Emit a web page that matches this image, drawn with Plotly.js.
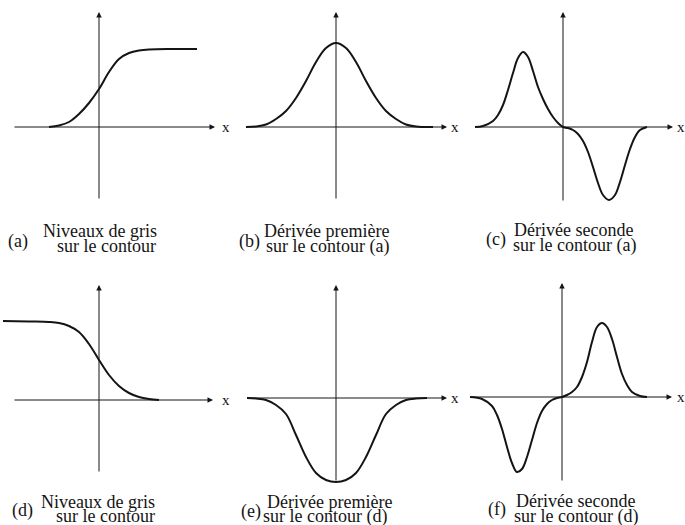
<!DOCTYPE html>
<html>
<head>
<meta charset="utf-8">
<script src="https://cdn.plot.ly/plotly-3.0.1.min.js"></script>
<style>
  html, body { margin: 0; padding: 0; background: #fff; }
  #chart { width: 685px; height: 525px; }
</style>
</head>
<body>
<div id="chart"></div>
<script>
// Edge profiles: grey level across the edge and its derivatives (arbitrary units)
const xA = [-5.0, -4.0, -3.0, -2.0, -1.0, 0, 1.0, 2.0, 3.0, 4.0, 5.0, 7.0, 9.8];
const yA = [0, 0.15, 0.5, 1.3, 2.4, 3.8, 5.5, 6.8, 7.4, 7.65, 7.75, 7.8, 7.8];

const xB = [-9.0, -8.0, -7.0, -6.0, -5.0, -4.0, -3.0, -2.0, -1.0, 0, 1.0, 2.0, 3.0, 4.0, 5.0, 6.0, 7.0, 8.0, 9.7];
const yB = [0, 0.05, 0.25, 0.8, 1.6, 2.9, 4.6, 6.5, 7.9, 8.4, 7.9, 6.5, 4.6, 2.9, 1.6, 0.8, 0.25, 0.05, 0];

const xC = [-8.8, -8.0, -7.0, -6.5, -6.0, -5.5, -5.0, -4.5, -4.0, -3.5, -3.0, -2.5, -2.0, -1.5, -1.0, -0.5, 0,
            0.5, 1.0, 1.5, 2.0, 2.5, 3.0, 3.5, 4.0, 4.6, 5.2, 5.7, 6.2, 6.7, 7.2, 7.7, 8.4];
const yC = [0, 0.1, 0.6, 1.2, 2.2, 3.7, 5.4, 6.9, 7.5, 7.0, 5.6, 4.0, 2.8, 1.8, 1.0, 0.4, 0,
            -0.1, -0.3, -0.7, -1.4, -2.5, -4.0, -5.6, -6.8, -7.3, -6.8, -5.5, -3.8, -2.2, -1.0, -0.3, 0];

const xD = [-9.6, -7.0, -5.0, -4.0, -3.0, -2.0, -1.0, 0, 1.0, 2.0, 3.0, 4.0, 5.0, 6.0];
const yD = [7.9, 7.85, 7.8, 7.7, 7.4, 6.8, 5.6, 4.0, 2.5, 1.4, 0.7, 0.3, 0.1, 0];

const xE = [-8.9, -8.0, -7.0, -6.0, -5.0, -4.0, -3.0, -2.0, -1.0, 0, 1.0, 2.0, 3.0, 4.0, 5.0, 6.0, 7.0, 8.0, 9.1];
const yE = [0, -0.05, -0.2, -0.7, -1.6, -3.7, -5.9, -7.5, -8.2, -8.4, -8.2, -7.5, -5.9, -3.7, -1.6, -0.7, -0.2, -0.05, 0];

const xF = [-9.2, -8.0, -7.0, -6.5, -6.0, -5.5, -5.0, -4.5, -4.0, -3.5, -3.0, -2.5, -2.0, -1.5, -1.0, -0.5, 0,
            0.5, 1.0, 1.5, 2.0, 2.5, 3.0, 3.5, 4.0, 4.5, 5.0, 5.5, 6.0, 6.5, 7.0, 7.8, 8.5];
const yF = [0, -0.2, -0.9, -1.8, -3.2, -5.0, -6.6, -7.5, -7.2, -6.0, -4.3, -2.6, -1.4, -0.7, -0.3, -0.1, 0,
            0.2, 0.5, 1.0, 2.0, 3.5, 5.5, 7.0, 7.4, 7.0, 5.8, 4.0, 2.3, 1.2, 0.5, 0.1, 0];

const captionTags  = ['(a)', '(b)', '(c)', '(d)', '(e)', '(f)'];
const captionLine1 = ['Niveaux de gris', 'Dérivée première', 'Dérivée seconde',
                      'Niveaux de gris', 'Dérivée première', 'Dérivée seconde'];
const captionLine2 = ['sur le contour', 'sur le contour (a)', 'sur le contour (a)',
                      'sur le contour', 'sur le contour (d)', 'sur le contour (d)'];
const axisLabel = 'x';

const series = [[xA, yA], [xB, yB], [xC, yC], [xD, yD], [xE, yE], [xF, yF]];

// Page geometry (pixels) and scale of the drawing: 10 px per unit
const W = 685, H = 525, S = 10;
const INK = '#141414';
const SERIF = '"Liberation Serif", "Times New Roman", serif';

// Per panel: origin, cell box, axis-arrow extents (units), caption placement
const panels = [
  { ox: 99,  oy: 127, box: [0, 232, 0, 260],     xa: [-8.6, 11.6], ya: [-7.3, 11.5], lab: 12.7,
    tag: [7, 241],   l1: [42, 231],  l2: [56, 246] },
  { ox: 336, oy: 127, box: [233, 459, 0, 260],   xa: [-9.0, 11.1], ya: [-7.3, 11.5], lab: 11.9,
    tag: [238, 241], l1: [263, 231], l2: [265, 246] },
  { ox: 563, oy: 127, box: [460, 685, 0, 260],   xa: [-8.8, 11.0], ya: [-7.5, 11.5], lab: 11.8,
    tag: [485, 239], l1: [513, 230], l2: [512, 245] },
  { ox: 99,  oy: 400, box: [0, 232, 262, 525],   xa: [-8.6, 11.4], ya: [-7.3, 11.5], lab: 12.7,
    tag: [11, 510],  l1: [40, 502],  l2: [55, 516] },
  { ox: 336, oy: 398, box: [233, 459, 262, 525], xa: [-9.0, 11.1], ya: [-8.4, 11.3], lab: 11.9,
    tag: [240, 511], l1: [266, 502], l2: [262, 516] },
  { ox: 562, oy: 397, box: [460, 685, 262, 525], xa: [-9.2, 11.0], ya: [-8.5, 11.4], lab: 11.9,
    tag: [487, 509], l1: [515, 501], l2: [513, 516] }
];

const data = [];
const layout = {
  width: W, height: H,
  margin: { l: 0, r: 0, t: 0, b: 0 },
  paper_bgcolor: '#fff', plot_bgcolor: 'rgba(0,0,0,0)',
  showlegend: false,
  annotations: []
};

panels.forEach((p, i) => {
  const n = i === 0 ? '' : String(i + 1);
  const [left, right, top, bottom] = p.box;
  const hidden = { visible: false, fixedrange: true };
  layout['xaxis' + n] = Object.assign({
    domain: [left / W, right / W],
    range: [(left - p.ox) / S, (right - p.ox) / S],
    anchor: 'y' + n
  }, hidden);
  layout['yaxis' + n] = Object.assign({
    domain: [1 - bottom / H, 1 - top / H],
    range: [(p.oy - bottom) / S, (p.oy - top) / S],
    anchor: 'x' + n
  }, hidden);

  const [xs, ys] = series[i];
  data.push({
    x: xs, y: ys, xaxis: 'x' + n, yaxis: 'y' + n,
    type: 'scatter', mode: 'lines', hoverinfo: 'skip',
    line: { color: INK, width: 2, shape: 'spline', smoothing: 1 }
  });

  const ref = { xref: 'x' + n, yref: 'y' + n, axref: 'x' + n, ayref: 'y' + n };
  // horizontal axis arrow
  layout.annotations.push(Object.assign({
    x: p.xa[1], y: 0, ax: p.xa[0], ay: 0, text: '',
    showarrow: true, arrowhead: 2, arrowsize: 1.1, arrowwidth: 1, arrowcolor: INK, standoff: 0
  }, ref));
  // vertical axis arrow
  layout.annotations.push(Object.assign({
    x: 0, y: p.ya[1], ax: 0, ay: p.ya[0], text: '',
    showarrow: true, arrowhead: 2, arrowsize: 1.1, arrowwidth: 1, arrowcolor: INK, standoff: 0
  }, ref));
  // axis name
  layout.annotations.push({
    xref: 'x' + n, yref: 'y' + n, x: p.lab, y: 0, text: axisLabel, showarrow: false,
    xanchor: 'center', yanchor: 'middle', borderpad: 0,
    font: { family: SERIF, size: 15, color: INK }
  });

  // caption
  const cap = (pos, txt) => ({
    xref: 'paper', yref: 'paper', x: pos[0] / W, y: 1 - pos[1] / H, text: txt,
    showarrow: false, xanchor: 'left', yanchor: 'middle', borderpad: 0,
    font: { family: SERIF, size: 18, color: INK }
  });
  layout.annotations.push(cap(p.tag, captionTags[i]));
  layout.annotations.push(cap(p.l1, captionLine1[i]));
  layout.annotations.push(cap(p.l2, captionLine2[i]));
});

Plotly.newPlot('chart', data, layout, { staticPlot: true, displayModeBar: false });
</script>
</body>
</html>
